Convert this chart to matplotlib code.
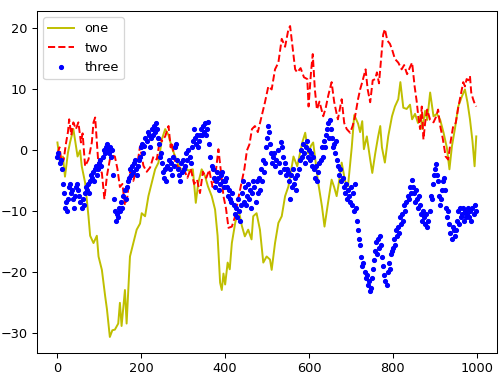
import numpy as np
import matplotlib
matplotlib.use("Agg")
import matplotlib.pyplot as plt

# series "one": (step, value)
one_x = [0, 6, 13, 18, 25, 30, 38, 43, 48, 54, 58, 66, 74, 78, 86, 94, 98, 106, 114, 118,
         125, 131, 137, 145, 149, 153, 161, 165, 173, 181, 189, 197, 201, 209, 217, 225, 233, 241, 249, 257,
         265, 273, 281, 289, 297, 305, 312, 323, 330, 336, 344, 352, 359, 368, 376, 382, 388, 392, 396, 400,
         406, 411, 416, 424, 432, 440, 447, 455, 463, 467, 475, 483, 491, 499, 507, 511, 519, 527, 535, 543,
         551, 559, 563, 572, 580, 584, 591, 598, 605, 610, 615, 622, 631, 637, 645, 654, 660, 666, 672, 678,
         686, 693, 702, 708, 717, 722, 727, 731, 738, 746, 751, 758, 765, 770, 774, 781, 789, 798, 805, 813,
         818, 825, 833, 841, 846, 853, 860, 866, 870, 877, 882, 889, 897, 905, 913, 921, 929, 935, 941, 948,
         956, 965, 972, 978, 984, 990, 995, 999]
one_y = [1.3, -2, -1, -4.3, -0.4, 1.3, 3.5, 1.3, -1, 0, -2.6, -5.3, -10.8, -14, -15.2, -14, -17.4, -19.6, -24, -26,
         -30.6, -29.5, -29.4, -28.4, -25, -28.8, -22.9, -28.4, -17.4, -15.2, -13, -12, -10.3, -10.8, -7.5, -5.3, -3.1, -2, 1.8, 3.5,
         2.5, 0.4, -1, -2.5, -3.3, -2.8, -3.3, -3.1, -8.6, -5.3, -3.1, -4.2, -5.9, -7.5, -9.7, -14, -21.7, -22.9, -20.2, -22,
         -18.4, -19.5, -15.2, -11.9, -9.7, -12.4, -14.1, -13, -14.6, -10.8, -10.3, -13, -18.4, -17.4, -17.9, -19.6, -15.2, -11.9, -10.8, -7.5,
         -5.9, -2.6, -1, -2.6, 0, 1.3, 2.9, -0.5, 0.8, 1.3, -1.5, -5.3, -9.2, -12.5, -8.8, -4.8, -6, -7.5, -5, -2,
         -5, -5.9, 0.5, 5.8, 4.4, 3, 4.8, 0.2, 2.3, -1.5, -3.7, -0.5, 2.3, 4, 0.5, -2, 2.3, 5.6, 7.2, 8.4,
         11.2, 7, 6.8, 7.5, 5.1, 6, 4.5, 5.8, 3.5, 6.5, 5, 9.5, 5.6, 6, 5, 2.9, 0.4, -3.1, 0.7, 3.5,
         7.2, 8.9, 10, 7.9, 5.1, 1.5, -2.6, 2.3]

# series "two"
two_x = [0, 5, 10, 15, 20, 25, 28, 33, 38, 44, 50, 56, 60, 66, 74, 82, 86, 90, 94, 98,
         106, 112, 118, 125, 133, 137, 143, 149, 155, 161, 167, 173, 181, 189, 197, 205, 213, 221, 229, 237,
         245, 249, 257, 265, 270, 273, 281, 290, 300, 310, 318, 326, 333, 340, 347, 355, 362, 370, 376, 384,
         390, 396, 402, 408, 416, 423, 431, 440, 446, 452, 458, 464, 471, 478, 487, 495, 503, 511, 519, 527,
         535, 543, 551, 555, 559, 563, 567, 572, 580, 588, 596, 599, 605, 609, 614, 619, 625, 634, 640, 646,
         654, 660, 666, 669, 678, 684, 690, 698, 704, 710, 717, 722, 727, 735, 740, 746, 752, 758, 762, 767,
         774, 777, 781, 787, 793, 798, 805, 813, 821, 827, 834, 840, 846, 852, 857, 861, 865, 869, 873, 877,
         882, 889, 897, 903, 908, 913, 919, 926, 932, 938, 944, 950, 956, 960, 968, 972, 976, 980, 984, 987,
         991, 994, 999]
two_y = [-0.5, 0.5, -2, -1.5, 1, 3, 5.1, 2.5, 4.6, 3.5, 4.6, 1.3, 2.8, -2.6, -1.5, 1.3, 4.6, 5.4, 1.5, -2.6,
         -3.7, -8, -4.2, -1.5, -0.9, -1, -3, -6, -5.5, -9, -7.5, -3.5, -5, -3, 0.7, -2.5, -3.5, -2.8, -1, -1.5,
         2, 1.5, 2.3, 4, 0.5, 1.3, -2, -3, -2.8, -4.5, -3, -5.5, -4.8, -7, -3.5, -4.5, -3.2, -6, -4.5, 0.2,
         -3.5, -7.5, -9.5, -12.7, -12.5, -11, -8, -5, -3, 0, 1, 3.5, 4, 3, 5.6, 7.9, 10.5, 10, 13.3, 14.4,
         18.3, 17, 19.9, 20.4, 18, 15.5, 13.3, 12.8, 13.5, 12, 11.7, 7.2, 13, 15.8, 10, 6.7, 8, 5.6, 7, 9,
         11.2, 8, 6, 5.1, 8.4, 4.5, 3.5, 2.9, 4, 5.6, 8.4, 10, 11.2, 13.3, 10, 7.9, 11.5, 11.7, 12.8, 11,
         16.6, 19, 19.9, 18, 17.5, 16.6, 15, 14.4, 13.3, 14, 12.5, 13.5, 14.4, 10.5, 8, 5.4, 3.5, 7.2, 1.8, 4.5,
         6.7, 5, 4.6, 5.5, 6.7, 4, 2, -1, -1.5, 1.5, 4, 4.5, 7, 8.4, 11.2, 10.5, 11.7, 11.5, 12.2, 9.5,
         8.5, 7.9, 7.2]

# series "three": one value every 2.5 steps (rows of 20 = 50 steps)
three_step = 2.5
three_y = [
    -1, -0.5, -2, -1.5, -3, -5.5, -7, -9.5, -8.5, -10, -8, -6, -5.5, -7, -6.5, -8, -9.5, -7.5, -6, -5.5,
    -6.5, -7.5, -8.5, -9.5, -8, -9, -7, -6, -6.5, -5.5, -7, -5, -4, -4.5, -3.5, -5, -3, -2.5, -4, -3,
    -2, -1.5, -2.5, -1, 0, -0.5, 0.5, 1, 0, -0.5, 0.5, -1, 0, -4, -8, -10, -11.5, -10.5, -11, -9.5,
    -10, -8.5, -9.5, -7.5, -6.5, -8, -6, -5, -4.5, -3, -4, -2.5, -3.5, -2, -1.5, -3, -4, -2.5, -1.5, -1,
    0.5, 1, -0.5, 0.8, 2, 1.5, 3, 2.5, 0.5, 2, 3.5, 2.5, 4, 3, 4.5, 3.5, 2, 1, -1, -0.5,
    -2, -3.5, -4.5, -3, -5, -2.5, -1.5, -3, -2, -4, -1, -2.5, 0.5, 1, -1.5, -3, -4, -5, -2, -3.5,
    -1.5, -3, -2.5, -0.5, -1.5, 0, -1, -2, 0.5, 1.5, 3.5, 2, 1, 2.5, 0.5, 1.5, 2.5, 3.5, 2.5, 4,
    3, 4.5, 2.5, 3.5, 4.6, 1, -1, -2.5, -3, -4.5, -6, -5, -3.5, -4.5, -6.5, -5.5, -4, -3.5, -5, -6,
    -5, -4.5, -6, -7.5, -6.5, -8, -8.5, -7, -9, -10.5, -9.5, -11, -8, -10, -11.5, -9, -7, -5, -8.5, -6,
    -9, -7.5, -5.5, -8, -6.5, -9.5, -7, -5, -6, -8.5, -5, -7, -4.5, -6.5, -3, -5, -1.5, -3.5, -2, 0.5,
    2, 4, 3, 1, -0.5, -2, -1, -0.5, -2.5, -1.5, 0, -2, -3.5, 1.3, 0.5, -1, -3, -2, -4, -3,
    -3.5, -5, -8, -4, -6, -3, -5.5, -4.5, -6.5, -4, -3, -1.5, 0, -1, 1, -0.5, -2, 0.5, 1.5, -1,
    0, -1.5, -0.5, -2.5, -1, -3, -4.5, -2.5, -5, -3.5, -2, -1.5, 0.5, -1, 1.5, 0.5, 2.5, 3.5, 4.5, 2,
    5, 3.5, 2, 0.5, 1, -0.5, 1.5, -1.5, -2.5, -4, -3, -5, -4.5, -6, -7, -5.5, -8, -6.5, -7.5, -8.5,
    -6, -9, -7, -10, -5.5, -9.5, -11.5, -13, -14.5, -15.5, -17.5, -19, -18.5, -20, -21, -20.5, -22, -21.5, -23, -22.5,
    -21, -19.5, -18, -16.5, -15, -17, -14.5, -16, -14, -15.5, -17.5, -19, -20.5, -21.5, -22, -20, -18.5, -19.5, -17, -16.5,
    -16, -14.5, -15.5, -13, -14, -12.5, -13.5, -11, -12, -10.5, -11.5, -9, -10, -8.5, -7.5, -8, -6, -7, -4.8, -6,
    -7, -8.5, -6.5, -8, -9.5, -7.5, -9, -10.5, -11.5, -10, -11, -12, -10.5, -12.5, -11.5, -10, -7.5, -8, -5.5, -4,
    -3, -2.3, -4, -5, -7.5, -9, -8, -6.5, -5, -4.5, -6.5, -9.5, -11, -10, -12, -13.5, -14.5, -12.5, -13, -14,
    -13, -11.5, -10, -12, -9.5, -11, -10.5, -9.5, -11.5, -10, -11, -10.5, -9.5, -11, -10, -11.5, -9.5, -10.5, -9, -10,
]
three_x = np.arange(len(three_y)) * three_step


def main():
    fig = plt.figure(figsize=(502 / 93, 377 / 93), dpi=93)
    ax = fig.add_axes([36.5 / 502, 1 - 352.5 / 377, (497.2 - 36.5) / 502, (352.5 - 10.5) / 377])

    ax.plot(one_x, one_y, "y", label="one")
    ax.plot(two_x, two_y, "r--", label="two")
    ax.plot(three_x, three_y, "b.", label="three")

    ax.legend(loc="upper left")

    fig.savefig("out.png", dpi=93)


if __name__ == "__main__":
    main()
